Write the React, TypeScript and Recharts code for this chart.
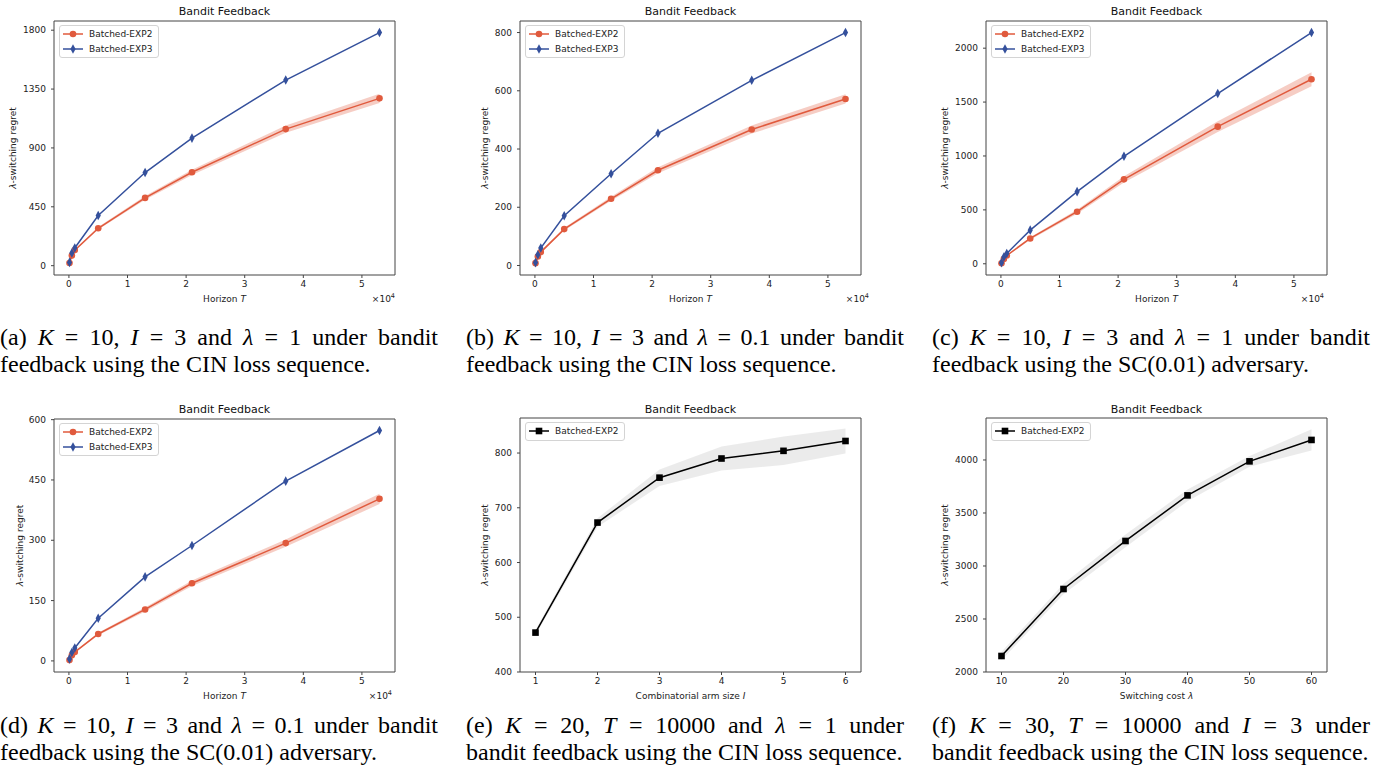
import React from 'react'
import { ComposedChart, Line, Area, XAxis, YAxis, ReferenceArea, Legend, Label } from 'recharts'

const RED = '#e05a3d'
const BLUE = '#34509c'
const AXIS = '#444'
const FONT = '"DejaVu Sans", sans-serif'

// horizon T used by panels (a)-(d)
const horizon = [100, 500, 1000, 5000, 13000, 21000, 37000, 53000]
const horizonTicks = [0, 10000, 20000, 30000, 40000, 50000]

// (a) K=10, I=3, lambda=1, CIN
const aExp2 = [20, 77, 119, 286, 518, 714, 1044, 1279]
const aExp2Err = [3, 5, 6, 10, 14, 20, 28, 35]
const aExp3 = [25, 97, 135, 383, 712, 975, 1419, 1782]
const aTicks = [0, 450, 900, 1350, 1800]

// (b) K=10, I=3, lambda=0.1, CIN
const bExp2 = [8, 31, 46, 125, 229, 327, 467, 572]
const bExp2Err = [1, 2, 3, 5, 7, 10, 14, 16]
const bExp3 = [10, 37, 60, 171, 315, 454, 636, 800]
const bTicks = [0, 200, 400, 600, 800]

// (c) K=10, I=3, lambda=1, SC(0.01)
const cExp2 = [5, 45, 77, 235, 483, 783, 1272, 1712]
const cExp2Err = [2, 4, 6, 12, 18, 30, 50, 65]
const cExp3 = [10, 62, 96, 312, 669, 997, 1579, 2145]
const cTicks = [0, 500, 1000, 1500, 2000]

// (d) K=10, I=3, lambda=0.1, SC(0.01)
const dExp2 = [2, 14, 22, 67, 128, 193, 293, 403]
const dExp2Err = [1, 1, 2, 3, 5, 7, 9, 13]
const dExp3 = [5, 21, 32, 106, 209, 287, 447, 573]
const dTicks = [0, 150, 300, 450, 600]

// (e) combinatorial arm size I
const armSize = [1, 2, 3, 4, 5, 6]
const eExp2 = [472, 673, 755, 790, 804, 822]
const eExp2Err = [5, 8, 15, 22, 26, 23]
const eTicks = [400, 500, 600, 700, 800]

// (f) switching cost lambda
const switchCost = [10, 20, 30, 40, 50, 60]
const fExp2 = [2151, 2783, 3236, 3666, 3987, 4189]
const fExp2Err = [40, 50, 60, 55, 50, 100]
const fTicks = [2000, 2500, 3000, 3500, 4000]

type Kind = 'circle' | 'diamond' | 'square'

function marker(kind: Kind, cx: number, cy: number, color: string, key?: string) {
  if (kind === 'circle') return <circle key={key} cx={cx} cy={cy} r={3.3} fill={color} />
  if (kind === 'diamond')
    return (
      <polygon
        key={key}
        points={`${cx},${cy - 4.8} ${cx + 2.6},${cy} ${cx},${cy + 4.8} ${cx - 2.6},${cy}`}
        fill={color}
      />
    )
  return <rect key={key} x={cx - 3.3} y={cy - 3.3} width={6.6} height={6.6} fill={color} />
}

function dotFor(kind: Kind, color: string) {
  return (p: any) => marker(kind, p.cx, p.cy, color, `${kind}-${p.index}`)
}

function pad(lo: number, hi: number): [number, number] {
  const r = hi - lo
  return [lo - 0.05 * r, hi + 0.05 * r]
}

function horizonRows(exp2: number[], err: number[], exp3: number[]) {
  return horizon.map((x, i) => ({
    x,
    exp2: exp2[i],
    band: [exp2[i] - err[i], exp2[i] + err[i]],
    exp3: exp3[i],
  }))
}

function singleRows(xs: number[], ys: number[], err: number[]) {
  return xs.map((x, i) => ({ x, exp2: ys[i], band: [ys[i] - err[i], ys[i] + err[i]] }))
}

interface LegendItem {
  name: string
  color: string
  kind: Kind
}

const twoItems: LegendItem[] = [
  { name: 'Batched-EXP2', color: RED, kind: 'circle' },
  { name: 'Batched-EXP3', color: BLUE, kind: 'diamond' },
]
const oneItem: LegendItem[] = [{ name: 'Batched-EXP2', color: '#000', kind: 'square' }]

function LegendBox({ items }: { items: LegendItem[] }) {
  return (
    <div
      style={{
        display: 'inline-block',
        border: '1px solid #d4d4d4',
        borderRadius: 3,
        background: 'rgba(255,255,255,0.85)',
        padding: '1px 6px 1px 3px',
        fontFamily: FONT,
        fontSize: 9,
        color: '#222',
      }}
    >
      {items.map((it) => (
        <div key={it.name} style={{ display: 'flex', alignItems: 'center', height: 14.5 }}>
          <svg width={20} height={12} style={{ marginRight: 6 }}>
            <line x1={0} x2={20} y1={6} y2={6} stroke={it.color} strokeWidth={1.5} />
            {marker(it.kind, 10, 6, it.color)}
          </svg>
          <span>{it.name}</span>
        </div>
      ))}
    </div>
  )
}

interface PanelProps {
  left: number
  top: number
  boxLeft: number
  boxTop: number
  boxRight: number
  bottom: number
  titleOffset: number
  yLabelX: number
  rows: any[]
  xDomain: [number, number]
  yDomain: [number, number]
  xTicks: number[]
  yTicks: number[]
  xFmt?: (v: number) => string
  xLabel: React.ReactNode
  offsetDx?: number
  two: boolean
}

const tickStyle = { fontSize: 9, fill: '#222', fontFamily: FONT }

function Panel(p: PanelProps) {
  const lineColor = p.two ? RED : '#000'
  return (
    <div style={{ position: 'absolute', left: p.left, top: p.top }}>
      <ComposedChart
        width={460}
        height={310}
        data={p.rows}
        margin={{ top: p.boxTop, right: 460 - p.boxRight, bottom: p.bottom, left: 0 }}
      >
        <XAxis
          dataKey="x"
          type="number"
          domain={p.xDomain}
          ticks={p.xTicks}
          tickFormatter={p.xFmt}
          height={32}
          tickSize={3}
          tickMargin={3}
          axisLine={false}
          tickLine={{ stroke: AXIS }}
          tick={tickStyle}
        >
          <Label
            content={({ viewBox }: any) => (
              <g fontFamily={FONT} fontSize={9} fill="#222">
                <text x={viewBox.x + viewBox.width / 2} y={viewBox.y + 27} textAnchor="middle">
                  {p.xLabel}
                </text>
                {p.offsetDx !== undefined && (
                  <text x={viewBox.x + viewBox.width + p.offsetDx} y={viewBox.y + 27} textAnchor="end">
                    ×10<tspan dy={-4} fontSize={6.5}>4</tspan>
                  </text>
                )}
              </g>
            )}
          />
        </XAxis>
        <YAxis
          type="number"
          domain={p.yDomain}
          ticks={p.yTicks}
          width={p.boxLeft}
          tickSize={3}
          tickMargin={5}
          axisLine={false}
          tickLine={{ stroke: AXIS }}
          tick={tickStyle}
        >
          <Label
            content={({ viewBox }: any) => {
              const cx = viewBox.x + p.yLabelX
              const cy = viewBox.y + viewBox.height / 2
              return (
                <text
                  x={cx}
                  y={cy}
                  transform={`rotate(-90, ${cx}, ${cy})`}
                  textAnchor="middle"
                  dominantBaseline="central"
                  fontFamily={FONT}
                  fontSize={9}
                  fill="#222"
                >
                  <tspan fontStyle="italic">λ</tspan>-switching regret
                </text>
              )
            }}
          />
        </YAxis>
        <Area
          type="linear"
          dataKey="band"
          fill={p.two ? RED : '#000'}
          fillOpacity={p.two ? 0.3 : 0.08}
          stroke="none"
          dot={false}
          activeDot={false}
          legendType="none"
          isAnimationActive={false}
        />
        <Line
          type="linear"
          dataKey="exp2"
          name="Batched-EXP2"
          stroke={lineColor}
          strokeWidth={1.5}
          dot={dotFor(p.two ? 'circle' : 'square', lineColor)}
          activeDot={false}
          isAnimationActive={false}
        />
        {p.two && (
          <Line
            type="linear"
            dataKey="exp3"
            name="Batched-EXP3"
            stroke={BLUE}
            strokeWidth={1.5}
            dot={dotFor('diamond', BLUE)}
            activeDot={false}
            isAnimationActive={false}
          />
        )}
        <ReferenceArea
          x1={p.xDomain[0]}
          x2={p.xDomain[1]}
          y1={p.yDomain[0]}
          y2={p.yDomain[1]}
          ifOverflow="visible"
          fill="none"
          stroke={AXIS}
          strokeWidth={1}
          label={{
            value: 'Bandit Feedback',
            position: 'top',
            offset: p.titleOffset,
            fontSize: 11,
            fill: '#111',
            fontFamily: FONT,
          }}
        />
        <Legend
          layout="vertical"
          align="center"
          verticalAlign="middle"
          wrapperStyle={{ left: p.boxLeft + 5, top: p.boxTop + 4, width: 'auto', height: 'auto' }}
          content={() => <LegendBox items={p.two ? twoItems : oneItem} />}
        />
      </ComposedChart>
    </div>
  )
}

const CAPTION: React.CSSProperties = {
  position: 'absolute',
  width: 438,
  fontFamily: '"Liberation Serif", "Times New Roman", serif',
  fontSize: 24,
  lineHeight: '27px',
  color: '#000',
}

function Caption({ left, top, line1, line2 }: { left: number; top: number; line1: React.ReactNode; line2: React.ReactNode }) {
  return (
    <div style={{ ...CAPTION, left, top }}>
      <div style={{ textAlign: 'justify', textAlignLast: 'justify', whiteSpace: 'nowrap' }}>{line1}</div>
      <div style={{ whiteSpace: 'nowrap' }}>{line2}</div>
    </div>
  )
}

const M = (s: string) => <i>{s}</i>
const xFmt = (v: number) => String(v / 10000)
const hDomain = pad(Math.min(...horizon), Math.max(...horizon))

function yDom(exp2: number[], err: number[], exp3: number[]) {
  const lo = Math.min(...exp2.map((v, i) => v - err[i]), ...exp3)
  const hi = Math.max(...exp2.map((v, i) => v + err[i]), ...exp3)
  return pad(lo, hi)
}

const horizonLabel = (
  <>
    Horizon <tspan fontStyle="italic">T</tspan>
  </>
)

export default function App() {
  return (
    <div style={{ position: 'absolute', left: 0, top: 0, width: 1385, height: 774, background: '#fff' }}>
      <Panel
        left={0} top={0} boxLeft={54} boxTop={21} boxRight={395} bottom={3} titleOffset={6} yLabelX={13}
        rows={horizonRows(aExp2, aExp2Err, aExp3)} xDomain={hDomain} yDomain={yDom(aExp2, aExp2Err, aExp3)}
        xTicks={horizonTicks} yTicks={aTicks} xFmt={xFmt} xLabel={horizonLabel} offsetDx={0} two
      />
      <Panel
        left={460} top={0} boxLeft={60} boxTop={21} boxRight={401} bottom={3} titleOffset={6} yLabelX={25}
        rows={horizonRows(bExp2, bExp2Err, bExp3)} xDomain={hDomain} yDomain={yDom(bExp2, bExp2Err, bExp3)}
        xTicks={horizonTicks} yTicks={bTicks} xFmt={xFmt} xLabel={horizonLabel} offsetDx={8} two
      />
      <Panel
        left={920} top={0} boxLeft={66} boxTop={21} boxRight={407} bottom={3} titleOffset={6} yLabelX={25}
        rows={horizonRows(cExp2, cExp2Err, cExp3)} xDomain={hDomain} yDomain={yDom(cExp2, cExp2Err, cExp3)}
        xTicks={horizonTicks} yTicks={cTicks} xFmt={xFmt} xLabel={horizonLabel} offsetDx={-3} two
      />
      <Panel
        left={0} top={395} boxLeft={54} boxTop={24} boxRight={395} bottom={1} titleOffset={6} yLabelX={20}
        rows={horizonRows(dExp2, dExp2Err, dExp3)} xDomain={hDomain} yDomain={yDom(dExp2, dExp2Err, dExp3)}
        xTicks={horizonTicks} yTicks={dTicks} xFmt={xFmt} xLabel={horizonLabel} offsetDx={-3} two
      />
      <Panel
        left={460} top={395} boxLeft={60} boxTop={23} boxRight={401} bottom={1} titleOffset={5} yLabelX={25}
        rows={singleRows(armSize, eExp2, eExp2Err)} xDomain={pad(1, 6)} yDomain={[400, 864]}
        xTicks={armSize} yTicks={eTicks}
        xLabel={<>Combinatorial arm size <tspan fontStyle="italic">I</tspan></>} two={false}
      />
      <Panel
        left={920} top={395} boxLeft={66} boxTop={23} boxRight={407} bottom={1} titleOffset={5} yLabelX={25}
        rows={singleRows(switchCost, fExp2, fExp2Err)} xDomain={pad(10, 60)} yDomain={[2000, 4396]}
        xTicks={switchCost} yTicks={fTicks}
        xLabel={<>Switching cost <tspan fontStyle="italic">λ</tspan></>} two={false}
      />

      <Caption left={0} top={324}
        line1={<>(a) {M('K')} = 10, {M('I')} = 3 and {M('λ')} = 1 under bandit</>}
        line2={<>feedback using the CIN loss sequence.</>} />
      <Caption left={466} top={324}
        line1={<>(b) {M('K')} = 10, {M('I')} = 3 and {M('λ')} = 0.1 under bandit</>}
        line2={<>feedback using the CIN loss sequence.</>} />
      <Caption left={932} top={324}
        line1={<>(c) {M('K')} = 10, {M('I')} = 3 and {M('λ')} = 1 under bandit</>}
        line2={<>feedback using the SC(0.01) adversary.</>} />
      <Caption left={0} top={712}
        line1={<>(d) {M('K')} = 10, {M('I')} = 3 and {M('λ')} = 0.1 under bandit</>}
        line2={<>feedback using the SC(0.01) adversary.</>} />
      <Caption left={466} top={712}
        line1={<>(e) {M('K')} = 20, {M('T')} = 10000 and {M('λ')} = 1 under</>}
        line2={<>bandit feedback using the CIN loss sequence.</>} />
      <Caption left={932} top={712}
        line1={<>(f) {M('K')} = 30, {M('T')} = 10000 and {M('I')} = 3 under</>}
        line2={<>bandit feedback using the CIN loss sequence.</>} />
    </div>
  )
}
